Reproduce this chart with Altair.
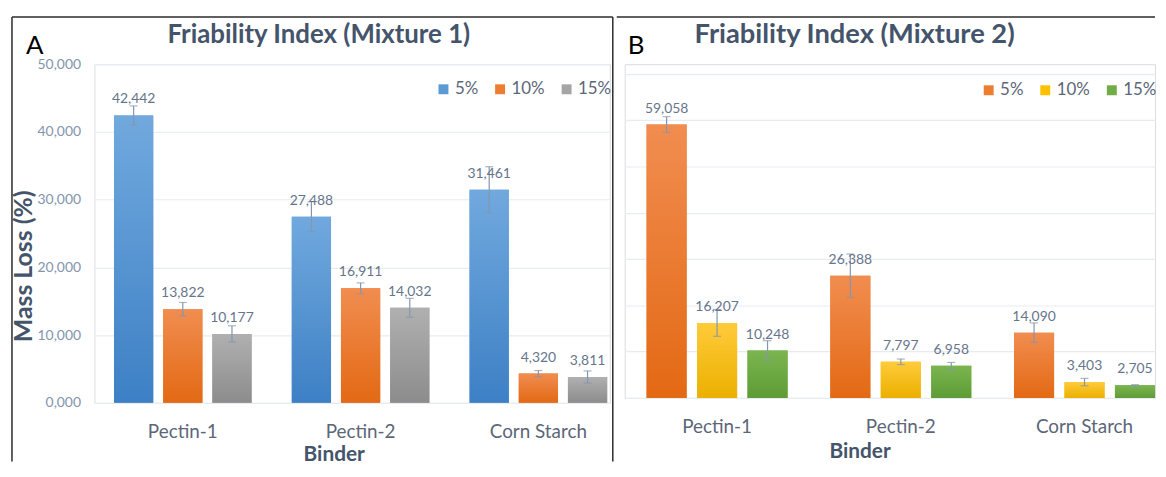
import altair as alt
import pandas as pd

categories = ["Pectin-1", "Pectin-2", "Corn Starch"]
series = ["5%", "10%", "15%"]

# Mixture 1 (panel A)
a_5 = [42.442, 27.488, 31.461]
a_10 = [13.822, 16.911, 4.320]
a_15 = [10.177, 14.032, 3.811]
a_err_5 = [1.4, 2.2, 3.4]
a_err_10 = [1.0, 0.8, 0.45]
a_err_15 = [1.2, 1.4, 0.9]

# Mixture 2 (panel B)
b_5 = [59.058, 26.388, 14.090]
b_10 = [16.207, 7.797, 3.403]
b_15 = [10.248, 6.958, 2.705]
b_err_5 = [1.7, 4.7, 2.1]
b_err_10 = [2.9, 0.6, 0.8]
b_err_15 = [2.1, 0.7, 0.15]

a_ticks = [0, 10, 20, 30, 40, 50]
b_ticks = [0, 10, 20, 30, 40, 50, 60, 70]

titles = ["Friability Index (Mixture 1)", "Friability Index (Mixture 2)"]
letters = ["A", "B"]

colors_a = ["#5B9BD5", "#ED7D31", "#A5A5A5"]
colors_b = ["#ED7D31", "#FFC000", "#70AD47"]
grad_a = [("#71A9DE", "#3D80C5"), ("#F18D50", "#E36914"), ("#B0B0B0", "#8C8C8C")]
grad_b = [("#F18D50", "#E36914"), ("#FFCB3A", "#EBB000"), ("#7BB550", "#5E9C36")]

TITLE_C = "#44546A"
LABEL_C = "#5B6678"
YLAB_C = "#8394AC"
VAL_C = "#66758C"
ERR_C = "#8496B0"
GRID_C = "#E8ECF1"
FONT = "Lato"


def make_df(vals, errs):
    rows = []
    for s, v_list, e_list in zip(series, vals, errs):
        for c, v, e in zip(categories, v_list, e_list):
            rows.append({"cat": c, "series": s, "value": v, "lo": v - e, "hi": v + e,
                         "label": f"{v:.3f}".replace(".", ",")})
    return pd.DataFrame(rows)


df_a = make_df([a_5, a_10, a_15], [a_err_5, a_err_10, a_err_15])
df_b = make_df([b_5, b_10, b_15], [b_err_5, b_err_10, b_err_15])
one = pd.DataFrame({"d": [0]})


def panel(df, colors, grads, title, title_x, title_size, letter, letter_x, ydom, yticks, width,
          height, xpad, offpad, show_ylab, ytitle_xy, xtitle_xy, legend_xy, borders):
    x_enc = alt.X(
        "cat:N", sort=categories,
        scale=alt.Scale(domain=categories, paddingInner=xpad[0], paddingOuter=xpad[1], align=1),
        axis=alt.Axis(domain=False, ticks=False, labelFontSize=19, labelColor=LABEL_C,
                      labelFont=FONT, labelPadding=20, title="Binder", titleFont=FONT,
                      titleFontSize=21, titleFontWeight="bold", titleColor=TITLE_C,
                      titleX=xtitle_xy[0], titleY=xtitle_xy[1], titleBaseline="middle",
                      labelAngle=0),
    )
    off_enc = alt.XOffset("series:N", sort=series,
                          scale=alt.Scale(domain=series, paddingInner=offpad[0],
                                          paddingOuter=offpad[1]))
    if show_ylab:
        yaxis = alt.Axis(values=yticks, grid=True, gridColor=GRID_C, gridWidth=1.2, domain=False,
                         ticks=False, labelExpr="replace(format(datum.value, '.3f'), '.', ',')",
                         labelFontSize=14, labelColor=YLAB_C, labelFont=FONT, labelPadding=14,
                         title="Mass Loss (%)", titleFont=FONT, titleFontSize=25,
                         titleFontWeight="bold", titleColor=TITLE_C, titleX=ytitle_xy[0],
                         titleY=ytitle_xy[1], titleBaseline="middle", titleAlign="center")
    else:
        yaxis = alt.Axis(values=yticks, grid=True, gridColor=GRID_C, gridWidth=1.2, domain=False,
                         ticks=False, labels=False, title=None, minExtent=0, maxExtent=0)
    y_enc = alt.Y("value:Q", scale=alt.Scale(domain=ydom, nice=False, zero=True), axis=yaxis)

    base = alt.Chart(df)
    bars = base.mark_bar().encode(
        x=x_enc, xOffset=off_enc, y=y_enc,
        color=alt.Color("series:N", sort=series, scale=alt.Scale(domain=series, range=colors),
                        legend=alt.Legend(title=None, orient="none", legendX=legend_xy[0],
                                          legendY=legend_xy[1], direction="horizontal",
                                          symbolType="square", symbolSize=100,
                                          symbolStrokeWidth=0, labelFontSize=17,
                                          labelFont=FONT, labelColor=LABEL_C, labelOffset=3,
                                          columnPadding=13, padding=0)),
    )
    layers = [bars]
    for s, (top, bot) in zip(series, grads):
        layers.append(
            base.transform_filter(alt.datum.series == s).mark_bar(
                color={"gradient": "linear", "x1": 0, "y1": 0, "x2": 0, "y2": 1,
                       "stops": [{"offset": 0, "color": top}, {"offset": 1, "color": bot}]}
            ).encode(x=x_enc, xOffset=off_enc, y=y_enc)
        )
    layers.append(base.mark_rule(color=ERR_C, strokeWidth=1.2).encode(
        x=x_enc, xOffset=off_enc, y=alt.Y("lo:Q"), y2="hi:Q"))
    layers.append(base.mark_tick(color=ERR_C, thickness=1.2, size=8, orient="horizontal").encode(
        x=x_enc, xOffset=off_enc, y=alt.Y("hi:Q")))
    layers.append(base.mark_tick(color=ERR_C, thickness=1.2, size=8, orient="horizontal").encode(
        x=x_enc, xOffset=off_enc, y=alt.Y("lo:Q")))
    layers.append(base.mark_text(dy=-9, baseline="bottom", fontSize=14, font=FONT,
                                 color=VAL_C).encode(
        x=x_enc, xOffset=off_enc, y=y_enc, text="label:N"))
    # panel title
    layers.append(alt.Chart(one).mark_text(text=title, fontSize=title_size, font=FONT,
                                           fontWeight="bold", color=TITLE_C, align="center",
                                           baseline="middle").encode(
        x=alt.value(title_x), y=alt.value(-29)))
    # panel letter
    layers.append(alt.Chart(one).mark_text(text=letter, fontSize=26, font=FONT, color="black",
                                           align="left", baseline="alphabetic").encode(
        x=alt.value(letter_x), y=alt.value(-10)))
    # panel borders (decoration)
    for b in borders:
        layers.append(alt.Chart(one).mark_rule(color="#2b2b2b", strokeWidth=1.5).encode(**b))

    return alt.layer(*layers).properties(width=width, height=height)


TOP = -47.5
BOTTOM = 400

chart_a = panel(
    df_a, colors_a, grad_a, titles[0], 226, 26, letters[0], -69, [0, 50], a_ticks,
    519, 341, (0.1964, 0.0477), (0.202, 0.0535), True, (-71, 203), (241, 52), (343, 16.5),
    [
        dict(x=alt.value(-83), x2=alt.value(522), y=alt.value(TOP)),
        dict(x=alt.value(-83), y=alt.value(TOP), y2=alt.value(BOTTOM)),
        dict(x=alt.value(522), y=alt.value(TOP), y2=alt.value(BOTTOM)),
    ],
)

chart_b = panel(
    df_b, colors_b, grad_b, titles[1], 231.5, 27.5, letters[1], 3, [0, 72.1], b_ticks,
    534, 336, (0.2325, 0.0595), (0.206, 0.0), False, (0, 0), (236.5, 54), (358, 17.5),
    [
        dict(x=alt.value(-8), x2=alt.value(534), y=alt.value(TOP)),
    ],
)

chart = alt.hconcat(chart_a, chart_b, spacing=0).resolve_scale(
    x="independent", y="independent", color="independent", xOffset="independent"
).properties(
    padding={"left": 2, "top": 6, "right": 0, "bottom": 0}
).configure_view(stroke=None).configure(font=FONT, background="white")

chart.save("out.html", embed_options={"renderer": "svg", "actions": False})
